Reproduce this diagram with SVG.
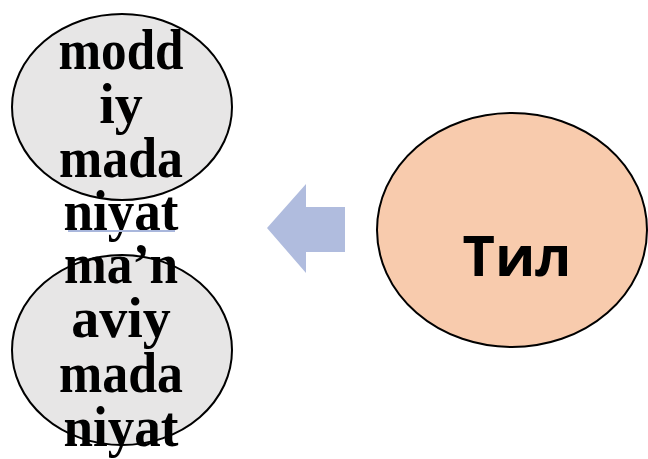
<svg xmlns="http://www.w3.org/2000/svg" width="648" height="459" viewBox="0 0 648 459">
<style>
.grey{fill:#E7E6E6;stroke:#000;stroke-width:2}
.peach{fill:#F8CBAD;stroke:#000;stroke-width:2}
.lbl{font-family:"Liberation Serif","Times New Roman",serif;font-weight:bold;font-size:56px;fill:#000;text-anchor:middle}
.til{font-family:"Open Sans","Noto Sans",sans-serif;font-weight:bold;font-size:56px;fill:#000;text-anchor:middle}
</style>
<rect width="648" height="459" fill="#fff"/>
<g id="connectors">
<path d="M267,228 L306,184 L306,207 L345,207 L345,252 L306,252 L306,273 Z" fill="#B0BCDE"/>
</g>
<g id="node-moddiy">
<ellipse class="grey" cx="122" cy="107" rx="110" ry="93"/>
</g>
<g id="node-manaviy">
<ellipse class="grey" cx="122" cy="350" rx="110" ry="95"/>
</g>
<g id="node-til">
<ellipse class="peach" cx="512" cy="230" rx="135" ry="117"/>
<text class="til" x="517" y="276">Тил</text>
</g>
<g id="labels-moddiy">
<text class="lbl" x="121" y="69" textLength="125" lengthAdjust="spacingAndGlyphs">modd</text>
<text class="lbl" x="121" y="123">iy</text>
<text class="lbl" x="121" y="177" textLength="124" lengthAdjust="spacingAndGlyphs">mada</text>
<text class="lbl" x="121" y="230" textLength="115" lengthAdjust="spacingAndGlyphs">niyat</text>
<line x1="68" y1="231" x2="175" y2="231" stroke="#A9B7DC" stroke-width="2"/>
</g>
<g id="labels-manaviy">
<text class="lbl" x="121" y="283" textLength="114" lengthAdjust="spacingAndGlyphs">ma’n</text>
<text class="lbl" x="121" y="337">aviy</text>
<text class="lbl" x="121" y="392" textLength="124" lengthAdjust="spacingAndGlyphs">mada</text>
<text class="lbl" x="121" y="446" textLength="115" lengthAdjust="spacingAndGlyphs">niyat</text>
</g>
</svg>
